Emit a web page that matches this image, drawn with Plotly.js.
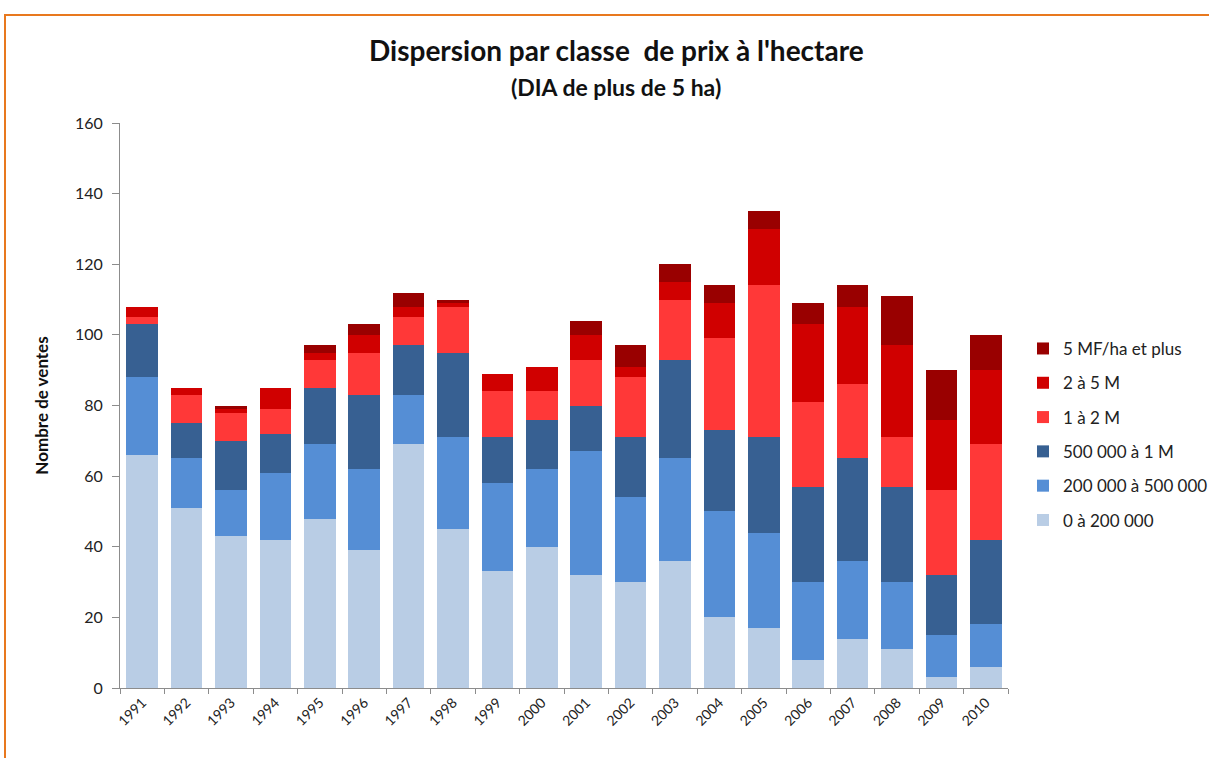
<!DOCTYPE html>
<html>
<head>
<meta charset="utf-8">
<script src="https://cdn.plot.ly/plotly-3.0.1.min.js"></script>
<style>
html,body{margin:0;padding:0;background:#fff;overflow:hidden;}
#frame{position:absolute;left:4px;top:14px;width:1300px;height:800px;border-top:2px solid #E8781E;border-left:2px solid #E8781E;pointer-events:none;z-index:5;}
#chart{position:absolute;left:0;top:0;width:1209px;height:758px;}
</style>
</head>
<body>
<div id="chart"></div>
<div id="frame"></div>
<script>
const years = ["1991","1992","1993","1994","1995","1996","1997","1998","1999","2000","2001","2002","2003","2004","2005","2006","2007","2008","2009","2010"];
const seriesNames = ["0 à 200 000","200 000 à 500 000","500 000 à 1 M","1 à 2 M","2 à 5 M","5 MF/ha et plus"];
const s0_200k   = [66,51,43,42,48,39,69,45,33,40,32,30,36,20,17, 8,14,11, 3, 6];
const s200_500k = [22,14,13,19,21,23,14,26,25,22,35,24,29,30,27,22,22,19,12,12];
const s500k_1M  = [15,10,14,11,16,21,14,24,13,14,13,17,28,23,27,27,29,27,17,24];
const s1_2M     = [ 2, 8, 8, 7, 8,12, 8,13,13, 8,13,17,17,26,43,24,21,14,24,27];
const s2_5M     = [ 3, 2, 1, 6, 2, 5, 3, 1, 5, 7, 7, 3, 5,10,16,22,22,26,20,21];
const s5M_plus  = [ 0, 0, 1, 0, 2, 3, 4, 1, 0, 0, 4, 6, 5, 5, 5, 6, 6,14,14,10];
const colors = ["#B9CDE5","#558ED5","#376092","#FF3838","#D00000","#990000"];
const allSeries = [s0_200k,s200_500k,s500k_1M,s1_2M,s2_5M,s5M_plus];

const FONT = "Lato, 'Open Sans', sans-serif";
const traces = allSeries.map((vals,i)=>({
  type:"bar",
  name:seriesNames[i],
  x:years,
  y:vals,
  legendgroup:"g"+i,
  legendrank: 100 - i,
  marker:{color:colors[i], line:{width:0}},
  hoverinfo:"x+y+name"
}));

const layout = {
  width:1209, height:758,
  margin:{l:120, r:201, t:123, b:70},
  paper_bgcolor:"#fff", plot_bgcolor:"#fff",
  barmode:"stack",
  bargap:0.29,
  font:{family:FONT, color:"#222"},
  showlegend:true,
  legend:{
    xref:"container", x:1023/1209, xanchor:"left",
    yref:"paper", y:0.632, yanchor:"top",
    traceorder:"grouped", tracegroupgap:9.2,
    font:{size:17, family:FONT, color:"#222"},
    itemwidth:30
  },
  xaxis:{
    type:"category",
    showline:true, linecolor:"#8c8c8c", linewidth:1,
    ticks:"outside", tickson:"boundaries", ticklen:5, tickcolor:"#8c8c8c",
    tickangle:-45,
    tickfont:{size:14, family:FONT, color:"#222"},
    showgrid:false, zeroline:false
  },
  yaxis:{
    range:[0,160], dtick:20,
    showline:true, linecolor:"#8c8c8c", linewidth:1,
    ticks:"outside", ticklen:7, tickcolor:"#8c8c8c",
    ticklabelstandoff:6,
    tickfont:{size:16, family:FONT, color:"#222"},
    showgrid:false, zeroline:false,
    title:{text:"<b>Nombre de ventes</b>", font:{size:17, family:FONT, color:"#111"}, standoff:22}
  },
  annotations:[
    {xref:"paper", yref:"paper", x:(616-120)/888, y:(688-50)/565, xanchor:"center", yanchor:"middle",
     text:"<b>Dispersion par classe  de prix à l'hectare</b>", showarrow:false,
     font:{size:28, family:FONT, color:"#111"}},
    {xref:"paper", yref:"paper", x:(616-120)/888, y:(688-87)/565, xanchor:"center", yanchor:"middle",
     text:"<b>(DIA de plus de 5 ha)</b>", showarrow:false,
     font:{size:23, family:FONT, color:"#111"}}
  ]
};

Plotly.newPlot("chart", traces, layout, {displayModeBar:false, staticPlot:true});
</script>
</body>
</html>
